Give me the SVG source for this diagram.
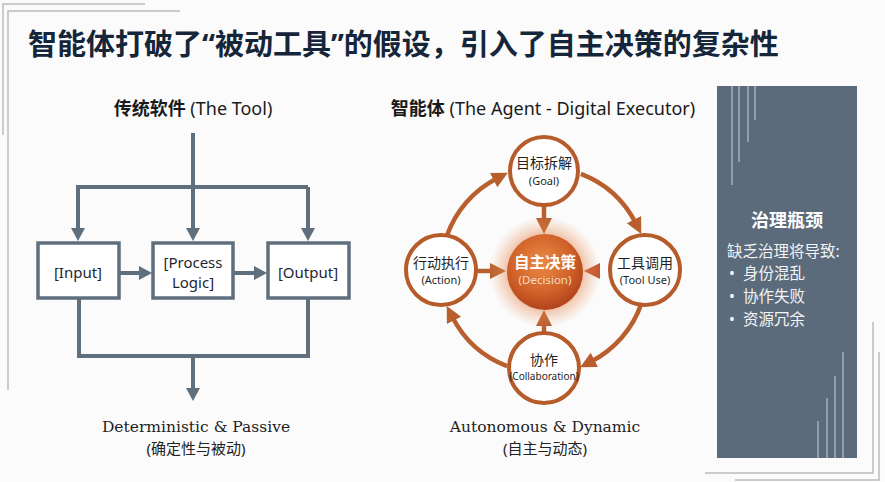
<svg xmlns="http://www.w3.org/2000/svg" width="885" height="482" viewBox="0 0 885 482">
<defs>
<style>
.cjk{font-family:"Noto Sans","Noto Sans CJK SC",sans-serif;}
.serif{font-family:"DejaVu Serif","Noto Sans CJK SC",serif;}
.frame{stroke:#b9bcc0;stroke-width:1.5;fill:none;}
.gline{stroke:#5f6f7d;stroke-width:4;fill:none;}
.box{fill:#ffffff;stroke:#5f6f7d;stroke-width:3.5;}
.boxt{font-size:15px;fill:#1e2730;text-anchor:middle;}
.oline{stroke:#b85f2d;stroke-width:4.5;fill:none;}
.node{fill:#ffffff;stroke:#b65b2a;stroke-width:4;}
.nt{font-size:14px;fill:#1f1f1f;text-anchor:middle;}
.ns{font-size:11px;fill:#1f1f1f;text-anchor:middle;}
.pl{stroke:#c9d1d9;stroke-width:1.2;opacity:0.85;}
.pt{fill:#f2f4f6;font-size:15.5px;}
</style>
<marker id="ag" markerUnits="userSpaceOnUse" markerWidth="14" markerHeight="14" refX="3" refY="7" orient="auto"><path d="M0,0 L13,7 L0,14 z" fill="#5f6f7d"/></marker>
<marker id="ao" markerUnits="userSpaceOnUse" markerWidth="17" markerHeight="17" refX="4" refY="8" orient="auto"><path d="M0,0 L16,8 L0,16 z" fill="#b85f2d"/></marker>
<marker id="ar" markerUnits="userSpaceOnUse" markerWidth="17" markerHeight="17" refX="4" refY="8" orient="auto"><path d="M0,0 L16,8 L0,16 z" fill="#c0552e"/></marker>
<radialGradient id="dec" cx="45%" cy="38%" r="65%"><stop offset="0" stop-color="#ec8a45"/><stop offset="0.6" stop-color="#d1632a"/><stop offset="1" stop-color="#ad3f1a"/></radialGradient>
<radialGradient id="glow" cx="50%" cy="50%" r="50%"><stop offset="0.6" stop-color="#e07a3c" stop-opacity="0.55"/><stop offset="1" stop-color="#f0a070" stop-opacity="0"/></radialGradient>
<linearGradient id="tr" x1="0" y1="0" x2="1" y2="0"><stop offset="0" stop-color="#c0552e"/><stop offset="1" stop-color="#922c37"/></linearGradient>
</defs>
<rect width="885" height="482" fill="#fbfbfb"/>
<g id="frame">
<path class="frame" d="M3,135 V4 H145"/>
<path class="frame" d="M8,390 V11 H180"/>
<path class="frame" d="M873,322 V473 H705"/>
<path class="frame" d="M879,352 V480 H735"/>
</g>
<g id="title"><text class="cjk" x="28" y="55" font-size="29" font-weight="bold" fill="#15253a">智能体打破了“被动工具”的假设，引入了自主决策的复杂性</text></g>
<g id="left-title"><text class="cjk" x="193" y="115" font-size="18" fill="#1a1a1a" text-anchor="middle"><tspan font-weight="bold">传统软件</tspan> (The Tool)</text></g>
<g id="right-title"><text class="cjk" x="543" y="115" font-size="18" fill="#1a1a1a" text-anchor="middle"><tspan font-weight="bold">智能体</tspan> (The Agent - Digital Executor)</text></g>
<g id="connectors">
<path class="gline" d="M193,133 V231" marker-end="url(#ag)"/>
<path class="gline" d="M78,231 V187 H308"/>
<path class="gline" d="M78,187 V231" marker-end="url(#ag)"/>
<path class="gline" d="M308,187 V231" marker-end="url(#ag)"/>
<path class="gline" d="M119,273 H142" marker-end="url(#ag)"/>
<path class="gline" d="M233,273 H257" marker-end="url(#ag)"/>
<path class="gline" d="M79,298 V356 H308 V298"/>
<path class="gline" d="M193,356 V391" marker-end="url(#ag)"/>
<path class="oline" d="M446.6,236.5 A103,103 0 0,1 497.2,178.2" marker-end="url(#ao)"/>
<path class="oline" d="M580.9,173.8 A103,103 0 0,1 635.8,223.2" marker-end="url(#ao)"/>
<path class="oline" d="M641.4,303.5 A103,103 0 0,1 590.8,361.8" marker-end="url(#ao)"/>
<path class="oline" d="M507.1,366.2 A103,103 0 0,1 452.2,316.8" marker-end="url(#ao)"/>
<path class="oline" d="M544,206 V222" marker-end="url(#ao)"/>
<path class="oline" d="M476,271 H494" marker-end="url(#ao)"/>
<path class="oline" d="M544,333 V322" marker-end="url(#ao)"/>
<path d="M610,271 H596" stroke="url(#tr)" stroke-width="4.5" fill="none" marker-end="url(#ar)"/>
</g>
<g id="input"><rect class="box" x="38" y="243" width="81" height="55"/><text class="cjk boxt" x="78" y="278">[Input]</text></g>
<g id="process"><rect class="box" x="153" y="243" width="80" height="55"/><text class="cjk boxt" x="193" y="268">[Process</text><text class="cjk boxt" x="193" y="288">Logic]</text></g>
<g id="output"><rect class="box" x="268" y="243" width="81" height="55"/><text class="cjk boxt" x="308" y="278">[Output]</text></g>
<g id="left-caption">
<text class="serif" x="196" y="432" font-size="15.5" fill="#222" text-anchor="middle">Deterministic &amp; Passive</text>
<text class="cjk" x="196" y="454" font-size="15" fill="#222" text-anchor="middle">(确定性与被动)</text>
</g>
<g id="goal"><circle class="node" cx="544" cy="171" r="34"/><text class="cjk nt" x="544" y="168">目标拆解</text><text class="cjk ns" x="544" y="185">(Goal)</text></g>
<g id="action"><circle class="node" cx="441" cy="270" r="35"/><text class="cjk nt" x="441" y="268">行动执行</text><text class="cjk ns" x="441" y="284">(Action)</text></g>
<g id="tool"><circle class="node" cx="645" cy="270" r="35" stroke="#8c2a3a"/><text class="cjk nt" x="645" y="268">工具调用</text><text class="cjk ns" x="645" y="284">(Tool Use)</text></g>
<g id="collab"><circle class="node" cx="544" cy="368" r="35"/><text class="cjk nt" x="544" y="365">协作</text><text class="cjk" x="544" y="380" font-size="10" fill="#1f1f1f" text-anchor="middle">(Collaboration)</text></g>
<g id="decision">
<circle cx="545" cy="272" r="56" fill="url(#glow)"/>
<circle cx="545" cy="272" r="38" fill="url(#dec)"/>
<text class="cjk" x="545" y="268" font-size="15.5" font-weight="bold" fill="#ffffff" text-anchor="middle">自主决策</text>
<text class="cjk" x="545" y="284" font-size="11.5" fill="#f8d8c4" text-anchor="middle">(Decision)</text>
</g>
<g id="right-caption">
<text class="serif" x="545" y="432" font-size="15.5" fill="#222" text-anchor="middle">Autonomous &amp; Dynamic</text>
<text class="cjk" x="545" y="454" font-size="15" fill="#222" text-anchor="middle">(自主与动态)</text>
</g>
<g id="panel">
<rect x="717" y="86" width="140" height="372" fill="#5b6b7b"/>
<line class="pl" x1="732" y1="86" x2="732" y2="185"/>
<line class="pl" x1="739" y1="86" x2="739" y2="162"/>
<line class="pl" x1="748" y1="86" x2="748" y2="142"/>
<line class="pl" x1="755" y1="86" x2="755" y2="120"/>
<line class="pl" x1="818" y1="458" x2="818" y2="421"/>
<line class="pl" x1="827" y1="458" x2="827" y2="398"/>
<line class="pl" x1="835" y1="458" x2="835" y2="376"/>
<line class="pl" x1="843" y1="458" x2="843" y2="352"/>
<text class="cjk" x="787" y="227" font-size="18" font-weight="bold" fill="#ffffff" text-anchor="middle">治理瓶颈</text>
<text class="cjk pt" x="727" y="257">缺乏治理将导致:</text>
<text class="cjk pt" x="729" y="279">•</text><text class="cjk pt" x="743" y="279">身份混乱</text>
<text class="cjk pt" x="729" y="302">•</text><text class="cjk pt" x="743" y="302">协作失败</text>
<text class="cjk pt" x="729" y="325">•</text><text class="cjk pt" x="743" y="325">资源冗余</text>
</g>
</svg>
